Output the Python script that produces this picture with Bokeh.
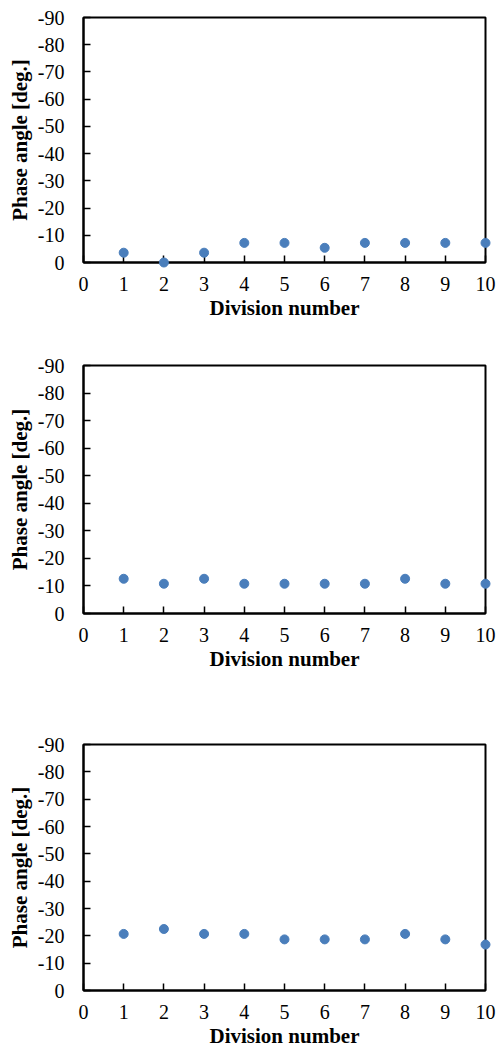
from bokeh.plotting import figure
from bokeh.layouts import column
from bokeh.models import Range1d, FixedTicker
from bokeh.embed import file_html
from bokeh.resources import INLINE

divisions = [1, 2, 3, 4, 5, 6, 7, 8, 9, 10]
phase_a = [-3.6, 0.0, -3.6, -7.2, -7.2, -5.4, -7.2, -7.2, -7.2, -7.2]
phase_b = [-12.6, -10.8, -12.6, -10.8, -10.8, -10.8, -10.8, -12.6, -10.8, -10.8]
phase_c = [-20.7, -22.5, -20.7, -20.7, -18.7, -18.7, -18.7, -20.7, -18.7, -16.8]
x_ticks = [0, 1, 2, 3, 4, 5, 6, 7, 8, 9, 10]
y_ticks = [0, -10, -20, -30, -40, -50, -60, -70, -80, -90]
y_tick_labels = ["0", "-10", "-20", "-30", "-40", "-50", "-60", "-70", "-80", "-90"]

FONT = "Liberation Serif"
DOT = "#4a7ebb"


def make_fig(values, height, top, bottom, right):
    p = figure(width=497, height=height, output_backend="svg", toolbar_location=None,
               x_range=Range1d(0, 10), y_range=Range1d(0, -90),
               min_border_left=83, min_border_right=right,
               min_border_top=top, min_border_bottom=bottom)
    p.xgrid.visible = False
    p.ygrid.visible = False
    p.outline_line_color = "black"
    p.outline_line_width = 2
    p.background_fill_color = "white"
    p.border_fill_color = "white"
    for ax in (p.xaxis[0], p.yaxis[0]):
        ax.axis_line_color = "black"
        ax.axis_line_width = 2
        ax.major_tick_line_color = "black"
        ax.major_tick_line_width = 1.5
        ax.major_tick_in = 7
        ax.major_tick_out = 0
        ax.minor_tick_line_color = None
        ax.major_label_text_font = FONT
        ax.major_label_text_font_size = "20px"
        ax.major_label_text_color = "black"
        ax.axis_label_text_font = FONT
        ax.axis_label_text_font_style = "bold"
        ax.axis_label_text_font_size = "21px"
        ax.axis_label_text_color = "black"
    p.xaxis.ticker = FixedTicker(ticks=x_ticks)
    p.yaxis.ticker = FixedTicker(ticks=y_ticks)
    p.yaxis.major_label_overrides = {t: s for t, s in zip(y_ticks, y_tick_labels)}
    p.xaxis.axis_label = "Division number"
    p.yaxis.axis_label = "Phase angle [deg.]"
    p.xaxis.major_label_standoff = 14
    p.yaxis.major_label_standoff = 19
    p.xaxis.axis_label_standoff = 2
    p.yaxis.axis_label_standoff = 3
    r = p.scatter(divisions, values, size=9, fill_color=DOT, line_color=DOT)
    r.level = "overlay"
    return p


p1 = make_fig(phase_a, 340, 17, 78, 10)
p2 = make_fig(phase_b, 360, 25, 87, 12)
p3 = make_fig(phase_c, 350, 44, 54, 5)

layout = column(p1, p2, p3, spacing=0)
open("out.html", "w").write(file_html(layout, INLINE))
